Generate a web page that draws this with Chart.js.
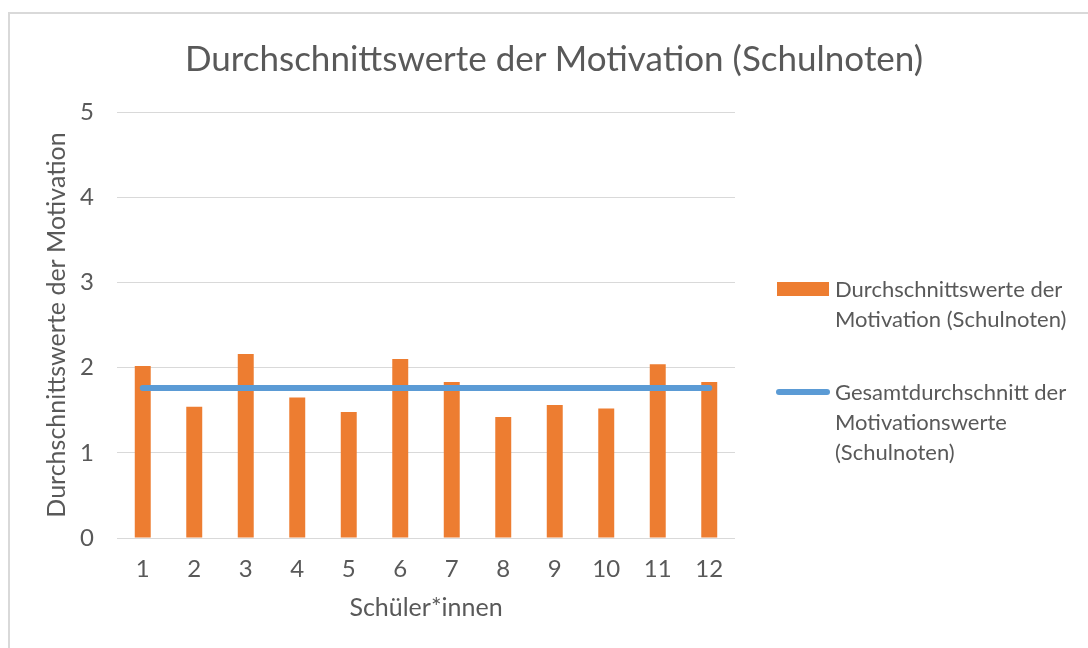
<!DOCTYPE html>
<html>
<head>
<meta charset="utf-8">
<script src="https://cdn.jsdelivr.net/npm/chart.js@4"></script>
<style>
  body { margin: 0; background: #fff; }
  #wrap { position: relative; width: 1088px; height: 648px; overflow: hidden; }
  #frame { position: absolute; left: 8px; top: 12px; width: 1200px; height: 700px;
           border-left: 2px solid #d9d9d9; border-top: 2px solid #d9d9d9; }
  #chart { position: absolute; left: 0; top: 0; }
  #title { position: absolute; left: 0; width: 1108px; top: 36px; text-align: center;
           font-family: Lato, sans-serif; font-size: 35px; color: #595959; line-height: 42px; }
  .legend { position: absolute; font-family: Lato, sans-serif; font-size: 22px;
            color: #595959; line-height: 30px; }
  .swatch { position: absolute; }
</style>
</head>
<body>
<div id="wrap">
  <div id="frame"></div>
  <canvas id="chart" width="1088" height="648"></canvas>
  <div id="title">Durchschnittswerte der Motivation (Schulnoten)</div>
  <div class="swatch" style="left:777px; top:282px; width:52px; height:14px; background:#ED7D31;"></div>
  <div class="legend" style="left:835px; top:274px;">Durchschnittswerte der<br>Motivation (Schulnoten)</div>
  <div class="swatch" style="left:776px; top:389px; width:54px; height:6px; border-radius:3px; background:#5B9BD5;"></div>
  <div class="legend" style="left:835px; top:377px;">Gesamtdurchschnitt der<br>Motivationswerte<br>(Schulnoten)</div>
</div>
<script>
const students = ['1', '2', '3', '4', '5', '6', '7', '8', '9', '10', '11', '12'];
const motivation = [2.02, 1.54, 2.16, 1.65, 1.48, 2.10, 1.83, 1.42, 1.56, 1.52, 2.04, 1.83];
const overall = [1.76, 1.76, 1.76, 1.76, 1.76, 1.76, 1.76, 1.76, 1.76, 1.76, 1.76, 1.76];
const yTicks = [0, 1, 2, 3, 4, 5];

const textColor = '#595959';
const font = 'Lato';

new Chart(document.getElementById('chart').getContext('2d'), {
    data: {
        labels: students,
        datasets: [
            {
                type: 'line',
                label: 'Gesamtdurchschnitt der Motivationswerte (Schulnoten)',
                data: overall,
                borderColor: '#5B9BD5',
                borderWidth: 6,
                borderCapStyle: 'round',
                pointRadius: 0,
                fill: false,
                order: 0
            },
            {
                type: 'bar',
                label: 'Durchschnittswerte der Motivation (Schulnoten)',
                data: motivation,
                backgroundColor: '#ED7D31',
                categoryPercentage: 1,
                barPercentage: 0.31,
                order: 1
            }
        ]
    },
    options: {
        responsive: false,
        animation: false,
        layout: { padding: { left: 0, right: 353, top: 112, bottom: 0 } },
        plugins: {
            legend: { display: false },
            tooltip: { enabled: false }
        },
        scales: {
            x: {
                grid: { display: false },
                border: { display: false },
                ticks: { color: textColor, font: { family: font, size: 24 }, padding: 9 },
                title: {
                    display: true,
                    text: 'Schüler*innen',
                    color: textColor,
                    font: { family: font, size: 25 },
                    padding: { top: 0, bottom: 25 }
                },
                afterFit(scale) { scale.height = 110; }
            },
            y: {
                min: 0,
                max: 5,
                afterBuildTicks(scale) { scale.ticks = yTicks.map(v => ({ value: v })); },
                grid: { color: '#d9d9d9', lineWidth: 1, drawTicks: false },
                border: { display: false },
                ticks: { color: textColor, font: { family: font, size: 24 }, padding: 23 },
                title: {
                    display: true,
                    text: 'Durchschnittswerte der Motivation',
                    color: textColor,
                    font: { family: font, size: 25 },
                    padding: { top: 42, bottom: 0 }
                },
                afterFit(scale) { scale.width = 117; }
            }
        }
    }
});
</script>
</body>
</html>
